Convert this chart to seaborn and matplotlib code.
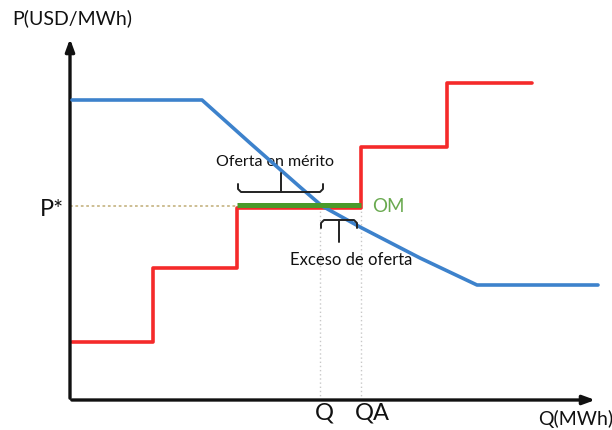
import matplotlib
matplotlib.use("Agg")
import matplotlib.pyplot as plt
import seaborn as sns
import pandas as pd

# ---- data (Q in arbitrary MWh units, P in USD/MWh units, origin at axes corner) ----
demand_q = [2, 132, 180, 230, 252, 290, 350, 407, 528]
demand_p = [300, 300, 257, 213, 194, 173, 142, 115, 115]

supply_q = [2, 83, 167, 291, 377, 462]
supply_p = [58, 132, 192, 253, 317, 317]

p_star = 194
q_eq = 250
q_a = 291
om_start = 167

sns.set_theme(style="white")
plt.rcParams['font.family'] = ['Lato', 'DejaVu Sans']

fig = plt.figure(figsize=(6.12, 4.30), dpi=100)
ax = fig.add_axes([0, 0, 1, 1])
ax.set_xlim(-70, 542)
ax.set_ylim(-30, 400)
ax.axis('off')

dem = pd.DataFrame({"Q": demand_q, "P": demand_p})
sup = pd.DataFrame({"Q": supply_q, "P": supply_p})

# reference lines
ax.plot([0, om_start], [p_star, p_star], color="#c9b98a", lw=1.3, ls=(0, (1.5, 1.5)), zorder=1)
ax.plot([q_eq, q_eq], [0, p_star], color="#c8c8c8", lw=1.0, ls=(0, (1, 2)), zorder=1)
ax.plot([q_a, q_a], [0, p_star], color="#c8c8c8", lw=1.0, ls=(0, (1, 2)), zorder=1)

sns.lineplot(data=sup, x="Q", y="P", ax=ax, color="#f52a2a", lw=2.6,
             drawstyle="steps-post", estimator=None, sort=False, zorder=3)
sns.lineplot(data=dem, x="Q", y="P", ax=ax, color="#3d82cc", lw=2.6,
             estimator=None, sort=False, zorder=4)
ax.plot([om_start, q_a], [p_star + 1, p_star + 1], color="#4a9a2a", lw=3.6, zorder=5,
        solid_capstyle="butt")

# axes arrows
ax.annotate("", xy=(0, 364), xytext=(0, -1),
            arrowprops=dict(arrowstyle="-|>,head_length=0.6,head_width=0.22", lw=2.4, color="#111111"))
ax.annotate("", xy=(528, 0), xytext=(-1, 0),
            arrowprops=dict(arrowstyle="-|>,head_length=0.6,head_width=0.22", lw=2.4, color="#111111"))

# braces
def brace(x0, x1, y, tip, down):
    d = -8 if not down else 8
    r = 3
    s = d / abs(d)
    xs = [x0, x0, x0 + r, x1 - r, x1, x1]
    ys = [y - d, y - r * s, y, y, y - r * s, y - d]
    ax.plot(xs, ys, color="#222222", lw=1.4, zorder=6)
    ax.plot([(x0 + x1) / 2] * 2, [y, tip], color="#222222", lw=1.4, zorder=6)

brace(168, 253, 208, 227, False)
brace(251, 287, 180, 158, True)

# texts
ax.text(205, 238, "Oferta en mérito", ha="center", va="center", fontsize=11.5, color="#111111")
ax.text(281, 140, "Exceso de oferta", ha="center", va="center", fontsize=12, color="#111111")
ax.text(302, 193, "OM", ha="left", va="center", fontsize=13.5, color="#6aaa50")
ax.text(-6, 190, "P*", ha="right", va="center", fontsize=17, color="#111111")
ax.text(254, -13, "Q", ha="center", va="center", fontsize=17, color="#111111")
ax.text(302, -13, "QA", ha="center", va="center", fontsize=17, color="#111111")
ax.text(543, -19, "Q(MWh)", ha="right", va="center", fontsize=14, color="#111111")
ax.text(-58, 382, "P(USD/MWh)", ha="left", va="center", fontsize=14, color="#111111")

fig.savefig("out.png", dpi=100)
